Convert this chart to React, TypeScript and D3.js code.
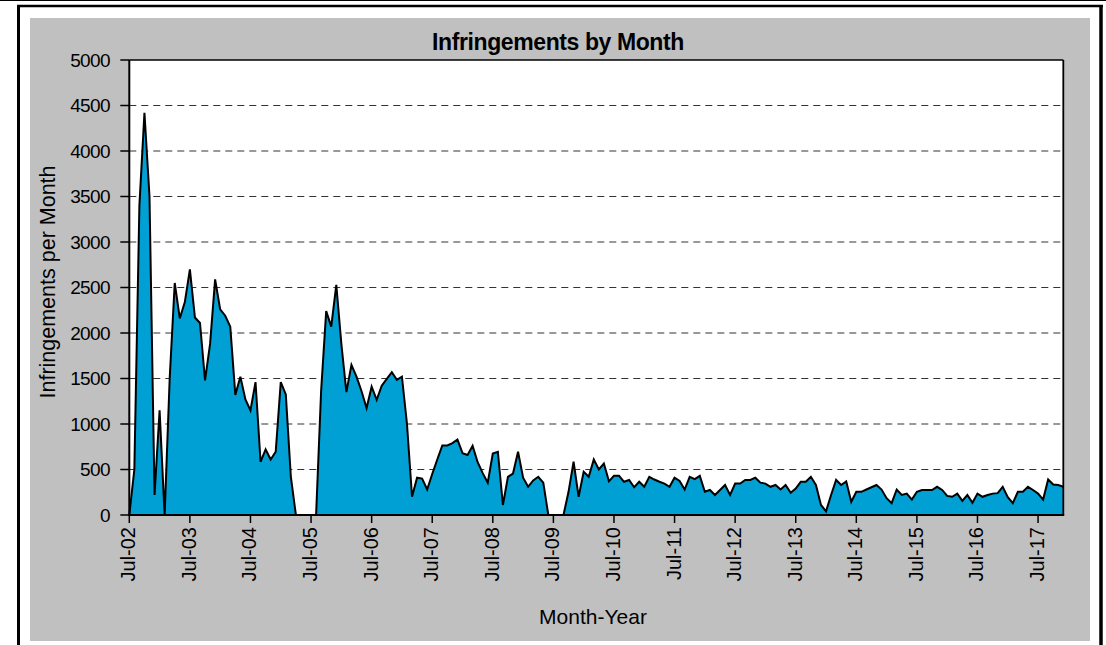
import React from "react";
import * as d3 from "d3";

// Monthly infringements, Jul-02 .. Dec-17
const startYear = 2002;
const startMonth = 6; // July (0-based)
const values: number[] = [
  0, 500, 3400, 4420, 3500, 220, 1150, 0, 1500, 2550, 2160, 2340,
  2700, 2170, 2110, 1480, 1880, 2590, 2260, 2190, 2070, 1320, 1520, 1270,
  1150, 1460, 585, 720, 610, 695, 1460, 1325, 420, 0, 0, 0,
  0, 0, 1370, 2240, 2070, 2530, 1880, 1350, 1650, 1520, 1360, 1175,
  1410, 1265, 1420, 1495, 1570, 1485, 1520, 1000, 200, 410, 400, 280,
  450, 610, 765, 765, 790, 830, 680, 660, 760, 580, 460, 355,
  675, 695, 110, 420, 455, 695, 410, 310, 380, 420, 355, 0,
  0, 0, 0, 255, 585, 200, 475, 420, 610, 500, 565, 370,
  430, 430, 365, 385, 305, 365, 310, 420, 390, 365, 345, 310,
  410, 375, 280, 420, 395, 430, 255, 275, 220, 275, 330, 220,
  345, 345, 385, 385, 410, 355, 345, 310, 330, 280, 330, 245,
  290, 365, 365, 420, 330, 110, 40, 220, 385, 330, 370, 145,
  255, 255, 280, 305, 330, 280, 185, 130, 280, 220, 235, 170,
  255, 275, 275, 275, 310, 275, 210, 200, 235, 155, 220, 135,
  235, 200, 220, 235, 240, 310, 195, 130, 255, 255, 310, 275,
  235, 170, 390, 335, 330, 310,
];
const tickLabels: string[] = [
  "Jul-02", "Jul-03", "Jul-04", "Jul-05", "Jul-06", "Jul-07", "Jul-08", "Jul-09",
  "Jul-10", "Jul-11", "Jul-12", "Jul-13", "Jul-14", "Jul-15", "Jul-16", "Jul-17",
];
const yTicks: number[] = [0, 500, 1000, 1500, 2000, 2500, 3000, 3500, 4000, 4500, 5000];
const gridValues: number[] = [500, 1000, 1500, 2000, 2500, 3000, 3500, 4000, 4500];

const categories: Date[] = values.map((_, i) => new Date(startYear, startMonth + i, 1));

const FONT = "'Liberation Sans', Arial, sans-serif";

export default function App() {
  const left = 129.3, right = 1063.3, top = 60, bottom = 515;
  const x = d3.scaleLinear().domain([0, categories.length - 1]).range([left, right]);
  const y = d3.scaleLinear().domain([0, 5000]).range([bottom, top]);

  const area = d3.area<number>().x((_, i) => x(i)).y0(y(0)).y1((d) => y(d));
  const line = d3.line<number>().x((_, i) => x(i)).y((d) => y(d));

  const tickIdx = tickLabels.map((_, k) => k * 12);

  return (
    <svg width={1106} height={645} style={{ position: "absolute", left: 0, top: 0, background: "#fff" }}
      fontFamily={FONT}>
      {/* outer frame */}
      <line x1={0} x2={1106} y1={0.5} y2={0.5} stroke="#000" strokeWidth={1} />
      <line x1={17} x2={1103} y1={6} y2={6} stroke="#000" strokeWidth={2.5} />
      <line x1={18.5} x2={18.5} y1={5} y2={645} stroke="#000" strokeWidth={3} />
      <line x1={1101} x2={1101} y1={5} y2={645} stroke="#000" strokeWidth={3.5} />
      <rect x={30} y={18} width={1060} height={623} fill="#C0C0C0" />

      {/* plot area */}
      <rect x={left} y={top} width={right - left} height={bottom - top} fill="#fff" />
      {gridValues.map((v) => (
        <line key={v} x1={left} x2={right} y1={y(v)} y2={y(v)} stroke="#333" strokeWidth={1.2}
          strokeDasharray="7 5" />
      ))}

      <path d={area(values) || ""} fill="#00A0D4" />
      <path d={line(values) || ""} fill="none" stroke="#000" strokeWidth={2} strokeLinejoin="miter" />

      {/* plot border */}
      <line x1={left} x2={right} y1={top} y2={top} stroke="#000" strokeWidth={1.5} />
      <line x1={right} x2={right} y1={top} y2={bottom} stroke="#000" strokeWidth={1.8} />
      <line x1={left} x2={left} y1={top} y2={bottom + 0.8} stroke="#000" strokeWidth={2} />
      <line x1={left - 1} x2={right + 0.9} y1={bottom} y2={bottom} stroke="#000" strokeWidth={2} />

      {/* y ticks */}
      {yTicks.map((v) => (
        <g key={v}>
          <line x1={left - 9} x2={left} y1={y(v)} y2={y(v)} stroke="#000" strokeWidth={1.5} />
          <text x={110} y={y(v)} dy="0.36em" textAnchor="end" fontSize={19} letterSpacing={-0.6} fill="#000">
            {v}
          </text>
        </g>
      ))}

      {/* x ticks */}
      {tickIdx.map((i, k) => (
        <g key={i}>
          <line x1={x(i)} x2={x(i)} y1={bottom} y2={bottom + 8} stroke="#000" strokeWidth={1.5} />
          <text transform={`translate(${x(i) + 6},${bottom + 12}) rotate(-90)`} textAnchor="end"
            fontSize={20} fill="#000">
            {tickLabels[k]}
          </text>
        </g>
      ))}

      {/* titles */}
      <text x={558} y={50} textAnchor="middle" fontSize={23} fontWeight="bold" letterSpacing={-0.4} fill="#000">
        Infringements by Month
      </text>
      <text x={593} y={624} textAnchor="middle" fontSize={21} fill="#000">
        Month-Year
      </text>
      <text transform="translate(55,282) rotate(-90)" textAnchor="middle" fontSize={21.5} fill="#000">
        Infringements per Month
      </text>
    </svg>
  );
}
